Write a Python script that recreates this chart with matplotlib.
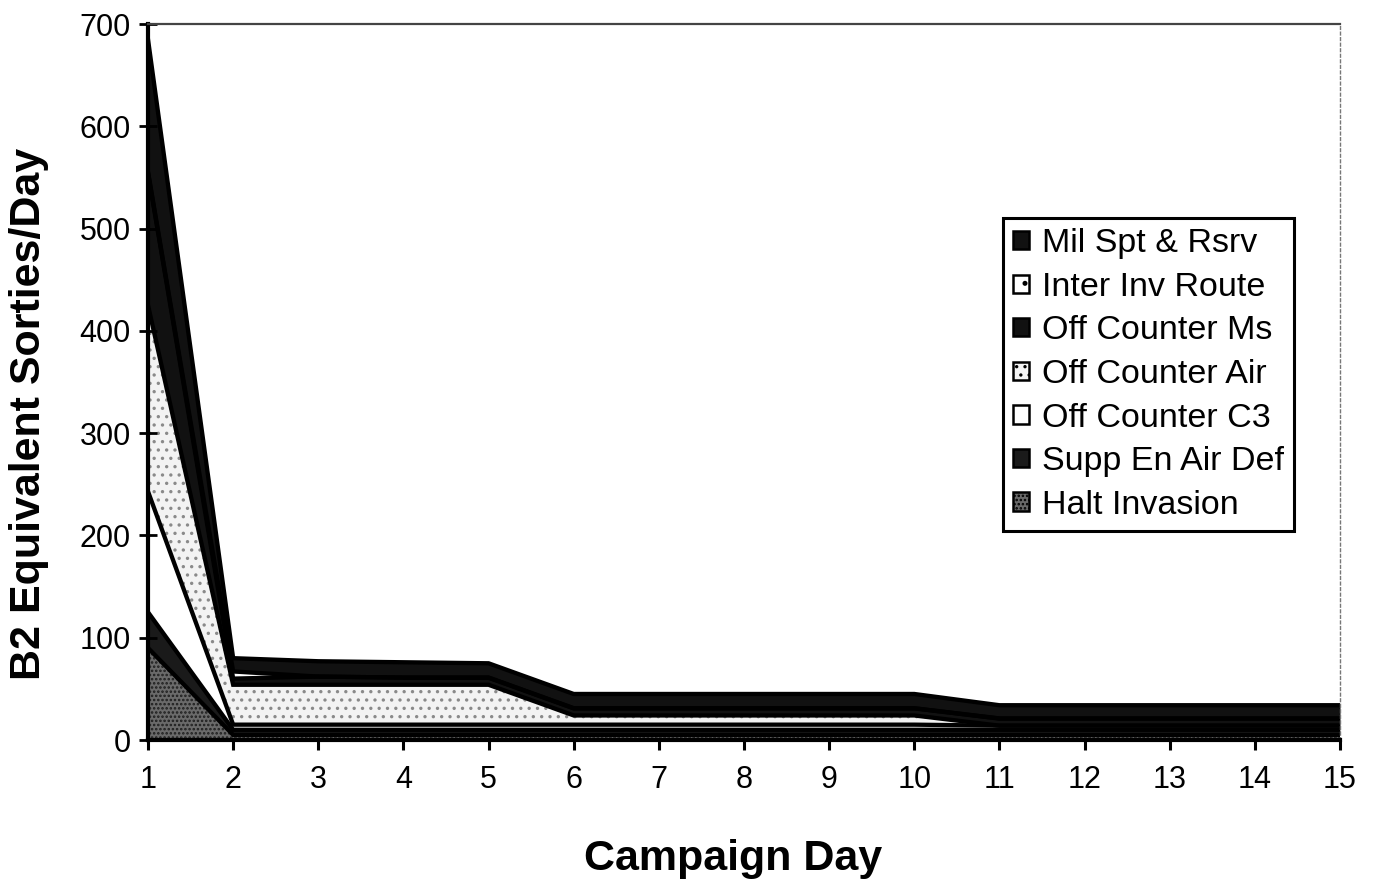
import matplotlib.pyplot as plt
from matplotlib.patches import Patch
import numpy as np

plt.rcParams['font.family'] = ['Liberation Sans', 'DejaVu Sans']
plt.rcParams['hatch.linewidth'] = 1.2

# campaign days and sorties per target class (stacked bottom -> top)
days = list(range(1, 16))
halt_invasion = [90, 5, 5, 5, 5, 5, 5, 5, 5, 5, 5, 5, 5, 5, 5]
supp_en_air_def = [35, 5, 5, 5, 5, 5, 5, 5, 5, 5, 5, 5, 5, 5, 5]
off_counter_c3 = [118, 5, 5, 5, 5, 5, 5, 5, 5, 5, 4, 4, 4, 4, 4]
off_counter_air = [182, 39, 39, 39, 39, 9, 9, 9, 9, 9, 0, 0, 0, 0, 0]
off_counter_ms = [130, 6, 8, 7, 7, 7, 7, 7, 7, 7, 7, 7, 7, 7, 7]
inter_inv_route = [0, 7, 0, 0, 0, 0, 0, 0, 0, 0, 0, 0, 0, 0, 0]
mil_spt_rsrv = [130, 13, 15, 15, 14, 14, 14, 14, 14, 14, 13, 13, 13, 13, 13]

labels = ['Halt Invasion', 'Supp En Air Def', 'Off Counter C3', 'Off Counter Air',
          'Off Counter Ms', 'Inter Inv Route', 'Mil Spt & Rsrv']
# face colour, hatch, hatch colour
styles = [('#6a6a6a', '....', '#1e1e1e'),
          ('#1a1a1a', None, '#1a1a1a'),
          ('white', None, 'white'),
          ('#f3f3f3', '..', '#8a8a8a'),
          ('#111111', None, '#111111'),
          ('white', '.', '#999999'),
          ('#111111', None, '#111111')]

stack = np.vstack([halt_invasion, supp_en_air_def, off_counter_c3, off_counter_air,
                   off_counter_ms, inter_inv_route, mil_spt_rsrv])
cum = np.cumsum(stack, axis=0)

fig = plt.figure(figsize=(13.77, 8.82), dpi=100)
ax = fig.add_axes([148 / 1377, 1 - 740 / 882, (1340 - 148) / 1377, 716 / 882])

base = np.zeros(len(days))
for top, (face, hatch, hc) in zip(cum, styles):
    ax.fill_between(days, base, top, facecolor=face, hatch=hatch,
                    edgecolor=hc, linewidth=0)
    base = top
for top in cum:
    ax.plot(days, top, color='black', lw=3.1, solid_joinstyle='miter')

ax.set_xlim(1, 15)
ax.set_ylim(0, 700)
ax.set_xticks(days)
ax.set_yticks(range(0, 701, 100))
ax.tick_params(axis='y', direction='inout', length=13, width=2, pad=6, labelsize=22)
ax.tick_params(axis='x', direction='out', length=7, width=2.2, pad=11, labelsize=22)

ax.spines['left'].set_linewidth(3)
ax.spines['bottom'].set_linewidth(3)
ax.spines['top'].set_color('#444444')
ax.spines['top'].set_linewidth(1.6)
ax.spines['top'].set_linestyle((0, (5, 1)))
ax.spines['right'].set_color('#777777')
ax.spines['right'].set_linewidth(1)
ax.spines['right'].set_linestyle((0, (2, 2)))

ax.set_xlabel('Campaign Day', fontsize=31, fontweight='bold')
ax.xaxis.set_label_coords(0.491, -0.138)
ax.set_ylabel('B2 Equivalent Sorties/Day', fontsize=31, fontweight='bold')
ax.yaxis.set_label_coords(-0.083, 0.455)

handles = [Patch(facecolor=f, hatch=h, edgecolor='black', linewidth=1.8)
           for f, h, _ in styles]
leg = ax.legend(handles[::-1], labels[::-1], loc='upper left',
                bbox_to_anchor=((1003 - 148) / 1192, (740 - 218) / 716),
                fontsize=24.5, handlelength=0.45, handleheight=0.45, handletextpad=0.4,
                labelspacing=0.37, borderpad=0.3, borderaxespad=0,
                fancybox=False, edgecolor='black', framealpha=1)
leg.get_frame().set_linewidth(2.2)

fig.savefig('out.png', dpi=100)
